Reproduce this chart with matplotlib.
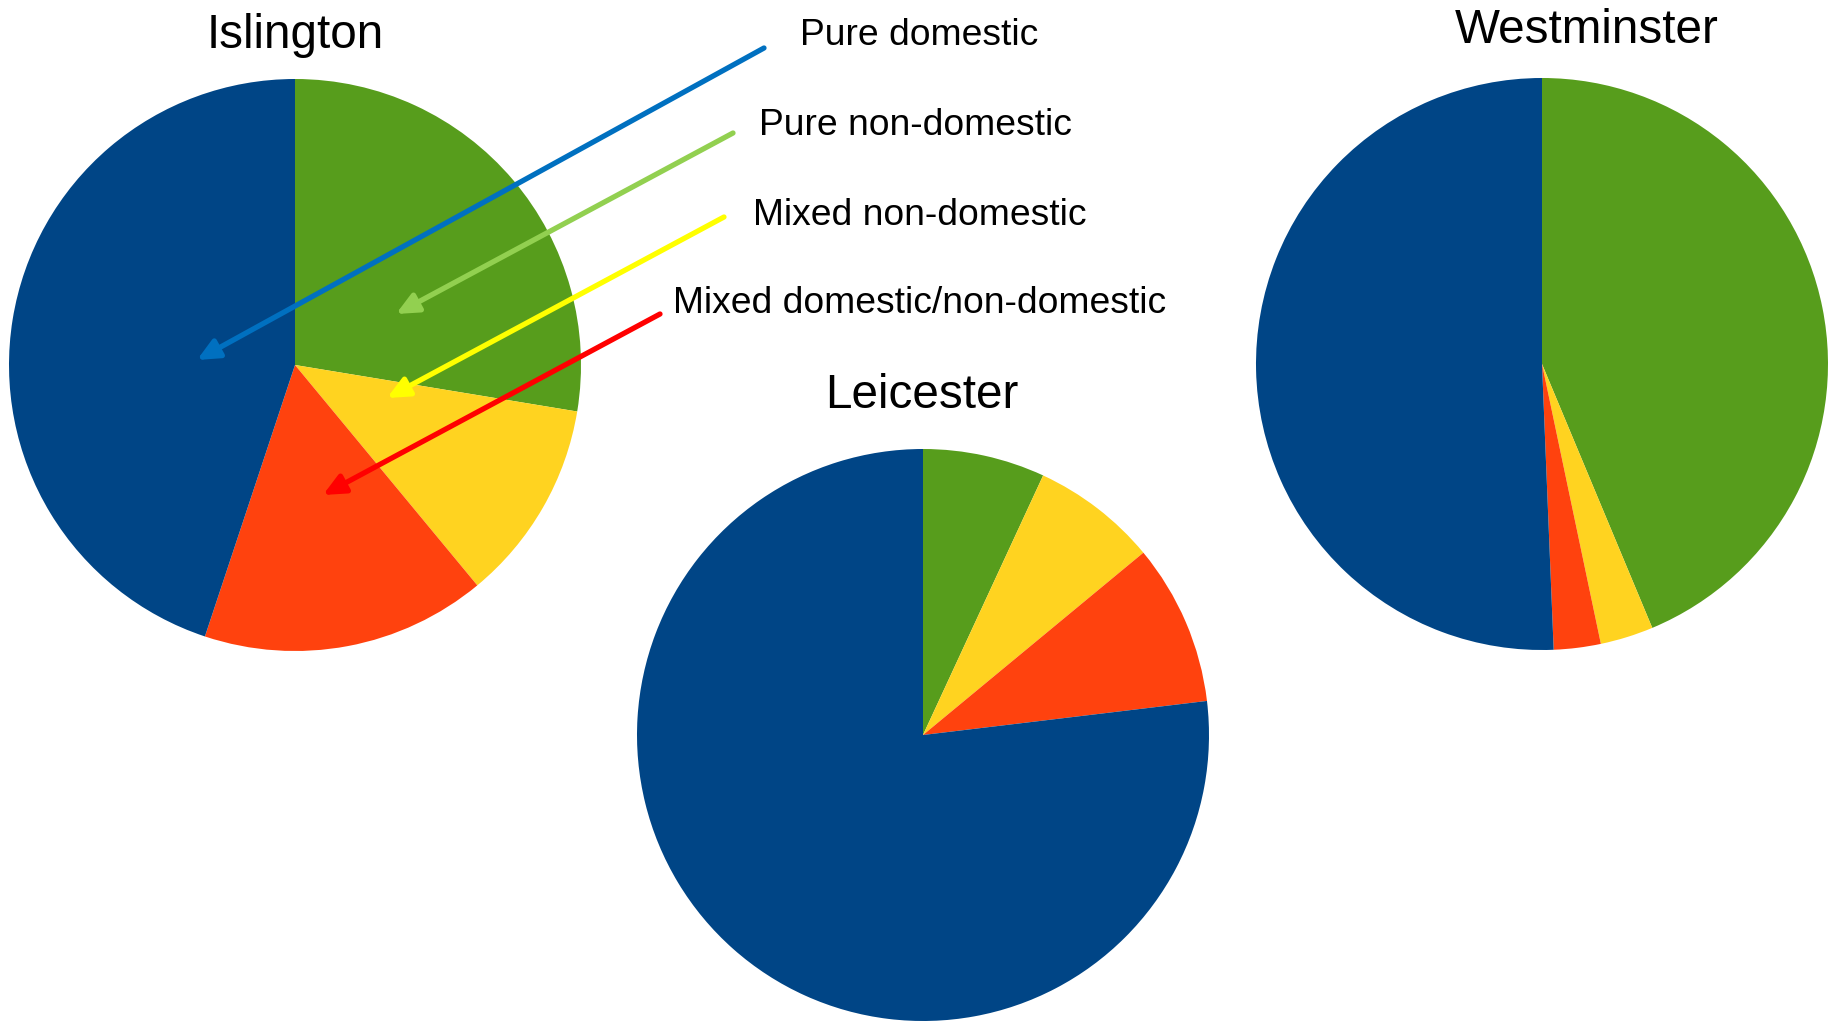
import matplotlib
matplotlib.use('Agg')
import matplotlib.pyplot as plt

plt.rcParams['font.family'] = ['Liberation Sans', 'DejaVu Sans']

W, H = 1835, 1024

# slices clockwise from 12 o'clock
categories = ['Pure non-domestic', 'Mixed non-domestic', 'Mixed domestic/non-domestic', 'Pure domestic']
slice_colors = ['#579d1c', '#ffd320', '#ff420e', '#004586']

islington = [27.6, 11.4, 16.1, 44.9]
leicester = [6.9, 7.1, 9.1, 76.9]
westminster = [43.7, 3.0, 2.65, 50.65]

# annotation labels (top to bottom) and arrow colours
labels = ['Pure domestic', 'Pure non-domestic', 'Mixed non-domestic', 'Mixed domestic/non-domestic']
arrow_colors = ['#0070c0', '#92d050', '#ffff00', '#ff0000']

fig = plt.figure(figsize=(W / 100, H / 100), dpi=100)
ax = fig.add_axes([0, 0, 1, 1])

def draw_pie(vals, cx, cy, r, title, tx, ty):
    ax.pie(vals, colors=slice_colors, startangle=90, counterclock=False,
           center=(cx, H - cy), radius=r, frame=True,
           wedgeprops=dict(linewidth=0))
    ax.text(tx, H - ty, title, fontsize=34.3, ha='center', va='baseline')

draw_pie(islington, 295, 365, 286, 'Islington', 295, 48)
draw_pie(leicester, 923, 735, 286, 'Leicester', 922, 408)
draw_pie(westminster, 1542, 364, 286, 'Westminster', 1587, 43)

# label positions and arrows pointing into Islington
text_pos = [(800, 45), (759, 135), (753, 225), (673, 313)]
arrow_start = [(764, 48), (733, 133), (724, 217), (660, 314)]
arrow_tip = [(197, 360), (396, 314), (387, 398), (323, 495)]

for lab, col, tp, s, e in zip(labels, arrow_colors, text_pos, arrow_start, arrow_tip):
    ax.text(tp[0], H - tp[1], lab, fontsize=26.8, ha='left', va='baseline')
    ax.annotate('', xy=(e[0], H - e[1]), xytext=(s[0], H - s[1]),
                arrowprops=dict(arrowstyle='-|>,head_length=0.65,head_width=0.3',
                                color=col, lw=3.8, shrinkA=0, shrinkB=0,
                                mutation_scale=20))

ax.set_xlim(0, W)
ax.set_ylim(0, H)
ax.axis('off')

fig.savefig('out.png', dpi=100)
